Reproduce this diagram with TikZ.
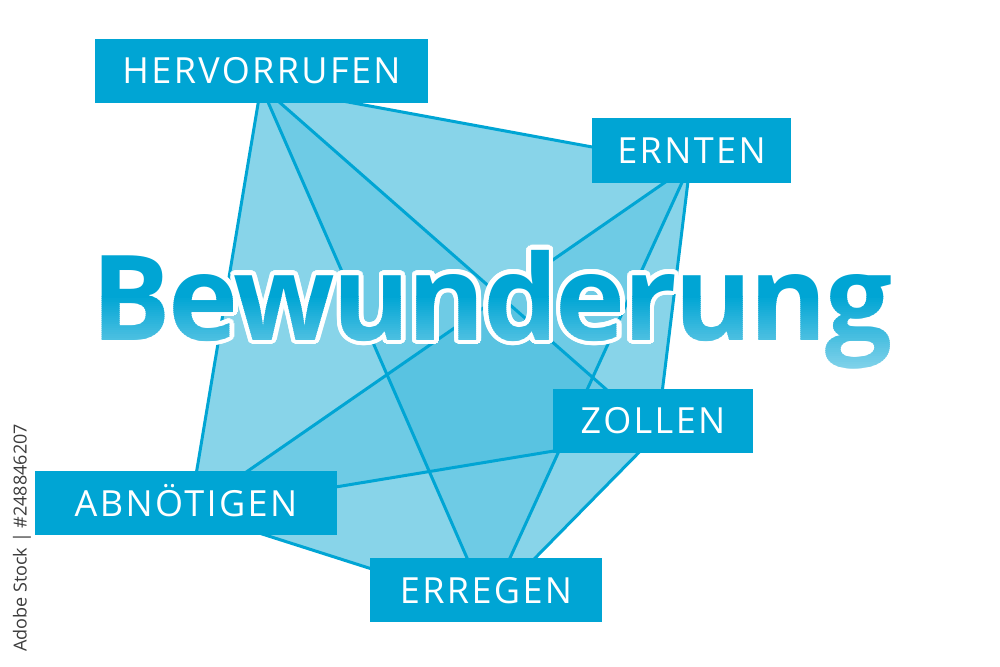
\documentclass[tikz,border=0pt]{standalone}
\usepackage{fontspec}
\setmainfont{Open Sans}
\newfontfamily\boxfont{Open Sans}[LetterSpace=6.6]
\newfontfamily\bwfont{Open Sans}[LetterSpace=-2.2]
\usetikzlibrary{calc}
\definecolor{boxc}{RGB}{0,165,212}
\definecolor{lightc}{RGB}{140,214,236}
\definecolor{wmc}{RGB}{60,60,60}
\tikzset{
  tri/.style={fill=boxc, fill opacity=0.19},
  edge/.style={draw=boxc, line width=2.25pt},
  labelbox/.style={fill=boxc, text=white, inner sep=0pt, minimum height={64*0.75pt},
    text height=19.5pt, text depth=0pt, font=\boxfont\fontsize{27pt}{27pt}\selectfont},
  bwtext/.style={anchor=base west, inner sep=0pt, font=\bwfont\bfseries\fontsize{89pt}{89pt}\selectfont},
}
\begin{document}
\begin{tikzpicture}[x=0.75pt,y=-0.75pt]
\useasboundingbox (0,0) rectangle (1000,667);
\fill[white] (0,0) rectangle (1000,667);
% hidden vertices under the boxes
\coordinate (h) at (261,86);
\coordinate (e) at (690,165);
\coordinate (z) at (657,434);
\coordinate (r) at (488,606);
\coordinate (a) at (190,511);
% translucent triangles
\foreach \p/\q/\s in {h/e/z,h/e/r,h/e/a,h/z/r,h/z/a,h/r/a,e/z/r,e/z/a,e/r/a,z/r/a}
  \fill[tri] (\p) -- (\q) -- (\s) -- cycle;
% connectors
\foreach \p/\q in {h/e,h/z,h/r,h/a,e/z,e/r,e/a,z/r,z/a,r/a}
  \draw[edge] (\p) -- (\q);
% title with white outline and gradient
\coordinate (bwpos) at (91,340);
\foreach \ang in {0,15,...,345}
  \node[bwtext, text=white] (bwo\ang) at ($(bwpos)+(\ang:4.5)$) {Bewunderung};
\begin{scope}
  \clip (0,0) rectangle (1000,296);
  \node[bwtext, text=boxc] (bwtop) at (bwpos) {Bewunderung};
\end{scope}
\foreach \i in {0,...,39}{
  \pgfmathtruncatemacro\pct{round(\i*100/39)}
  \colorlet{bandc}{lightc!\pct!boxc}
  \begin{scope}
    \clip (0,{296+2*\i}) rectangle (1000,{298.3+2*\i});
    \node[bwtext, text=bandc] (bwb\i) at (bwpos) {Bewunderung};
  \end{scope}
}
\begin{scope}
  \clip (0,376) rectangle (1000,667);
  \node[bwtext, text=lightc] (bwbot) at (bwpos) {Bewunderung};
\end{scope}
% label boxes
\node[labelbox, minimum width={333*0.75pt}] (herv) at (261.5,71) {HERVORRUFEN};
\node[labelbox, minimum width={199*0.75pt}] (ernt) at (691.5,150.5) {ERNTEN};
\node[labelbox, minimum width={200*0.75pt}] (zoll) at (653,420.5) {ZOLLEN};
\node[labelbox, minimum width={302*0.75pt}] (abn) at (186,503) {ABNÖTIGEN};
\node[labelbox, minimum width={232*0.75pt}] (erreg) at (486,590) {ERREGEN};
% watermark credit
\node[rotate=90, text=wmc, inner sep=0pt, font=\fontsize{13.5pt}{13.5pt}\selectfont] (wm) at (22,538) {Adobe Stock | \#248846207};
\end{tikzpicture}
\end{document}
